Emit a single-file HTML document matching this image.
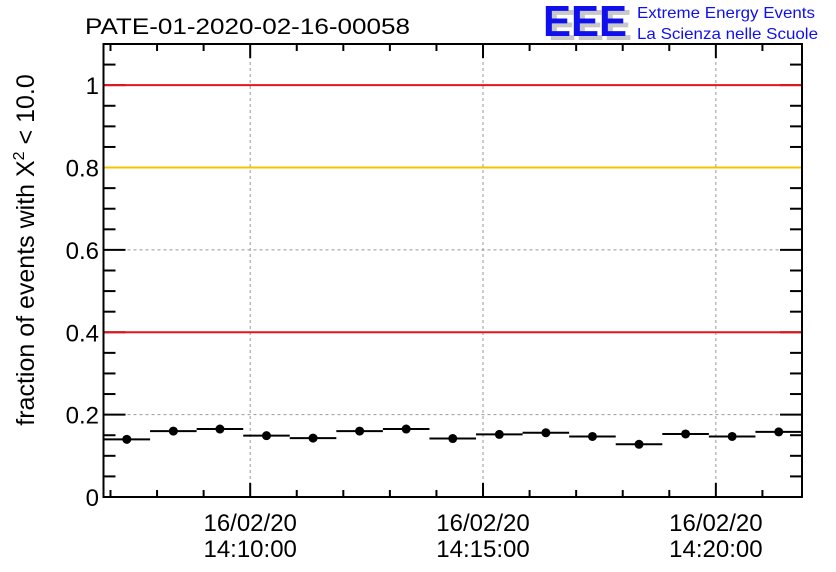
<!DOCTYPE html>
<html><head><meta charset="utf-8"><style>
body{margin:0;background:#fff;width:836px;height:572px;overflow:hidden}
svg{display:block;font-family:"Liberation Sans",sans-serif}
</style></head><body>
<svg id="chart" width="836" height="572" xmlns="http://www.w3.org/2000/svg">
<text x="85" y="34" font-size="22" textLength="325" lengthAdjust="spacingAndGlyphs">PATE-01-2020-02-16-00058</text>
<g>
<text x="548" y="40" font-size="44" font-weight="bold" fill="#c8c8c8" textLength="84" lengthAdjust="spacingAndGlyphs">EEE</text>
<text x="543" y="36" font-size="44" font-weight="bold" fill="#1010ee" textLength="84" lengthAdjust="spacingAndGlyphs">EEE</text>
<text x="637" y="18" font-size="16" fill="#1010ee" textLength="178" lengthAdjust="spacingAndGlyphs">Extreme Energy Events</text>
<text x="637" y="39" font-size="16" fill="#1010ee" textLength="181" lengthAdjust="spacingAndGlyphs">La Scienza nelle Scuole</text>
</g>
<text transform="translate(34,250) rotate(-90)" text-anchor="middle" font-size="25">fraction of events with Χ<tspan dy="-10" font-size="16">2</tspan><tspan dy="10"> &lt; 10.0</tspan></text>
<g id="plot"></g>
</svg>
<script>
const categories=["14:06:51","14:07:51","14:08:51","14:09:51","14:10:51","14:11:51","14:12:51","14:13:51","14:14:51","14:15:51","14:16:51","14:17:51","14:18:51","14:19:51","14:20:51"];
const fractions=[0.140,0.160,0.165,0.149,0.143,0.160,0.165,0.142,0.152,0.156,0.147,0.128,0.153,0.147,0.158];
const yTicks=[0,0.2,0.4,0.6,0.8,1];
const yTickLabels=["0","0.2","0.4","0.6","0.8","1"];
const xMajorMinutes=[10,15,20];
const xTickLabels=[["16/02/20","14:10:00"],["16/02/20","14:15:00"],["16/02/20","14:20:00"]];
const refLines=[1.0,0.8,0.4];
const refColors=["#e8141c","#f5c400","#e8141c"];

const L=103.5,R=802,T=44,B=497,YMAX=1.1;
const X0=6+51/60;
const MIN_PX=(R-L)/15;
const x=m=>L+(m-X0)*MIN_PX;
const y=v=>B-v/YMAX*(B-T);
const NS="http://www.w3.org/2000/svg";
const g=document.getElementById('plot');
function mk(t,a){const e=document.createElementNS(NS,t);for(const k in a)e.setAttribute(k,a[k]);g.appendChild(e);return e;}
xMajorMinutes.forEach(m=>{const e=mk('line',{x1:x(m),x2:x(m),y1:T,y2:B,stroke:'#999','stroke-dasharray':'3,3','stroke-width':1});

});
yTicks.slice(1).forEach(v=>{const e=mk('line',{x1:L,x2:R,y1:y(v),y2:y(v),stroke:'#999','stroke-dasharray':'3,3','stroke-width':1});

});
// ticks first, then threshold lines over them
for(let i=0;i<=22;i++){const v=i*0.05;const maj=i%4==0;const len=maj?22:12;
mk('line',{x1:L,x2:L+len,y1:y(v),y2:y(v),stroke:'#000','stroke-width':2});
mk('line',{x1:R,x2:R-len,y1:y(v),y2:y(v),stroke:'#000','stroke-width':2});}
refLines.forEach((v,i)=>{const e=mk('line',{x1:L,x2:R,y1:y(v),y2:y(v),stroke:refColors[i],'stroke-width':2});

});
const fr=mk('rect',{x:L,y:T,width:R-L,height:B-T,fill:'none',stroke:'#000','stroke-width':2});


yTicks.forEach((v,i)=>{const e=mk('text',{x:99,y:y(v)+9,'text-anchor':'end','font-size':24});e.textContent=yTickLabels[i];

});
for(let m=7;m<=21;m++){const maj=m%5==0;const len=maj?14:7;
mk('line',{x1:x(m),x2:x(m),y1:B,y2:B-len,stroke:'#000','stroke-width':2});
mk('line',{x1:x(m),x2:x(m),y1:T,y2:T+len,stroke:'#000','stroke-width':2});}
xMajorMinutes.forEach((m,i)=>{const e=mk('text',{x:x(m),y:531,'text-anchor':'middle','font-size':24});e.textContent=xTickLabels[i][0];


const f=mk('text',{x:x(m),y:557,'text-anchor':'middle','font-size':24});f.textContent=xTickLabels[i][1];

});
fractions.forEach((v,i)=>{const a=X0+i,b=X0+i+1;
const h=mk('line',{x1:x(a),x2:x(b),y1:y(v),y2:y(v),stroke:'#000','stroke-width':2});


const c=mk('circle',{cx:x(a+0.5),cy:y(v),r:4.5,fill:'#000'});

});
</script>
</body></html>
